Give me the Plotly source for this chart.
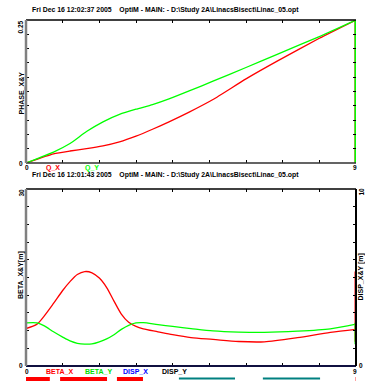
import plotly.graph_objects as go

# ---- data ----
s_q = [0, 0.75, 1.2, 1.65, 2.1, 2.55, 3.0, 3.45, 3.9, 4.45, 5.1, 6.0, 6.85, 8.0, 9.0]
q_x = [0, 0.016, 0.021, 0.025, 0.030, 0.037, 0.047, 0.059, 0.072, 0.089, 0.111, 0.147, 0.178, 0.218, 0.25]
q_y = [0, 0.019, 0.034, 0.055, 0.072, 0.085, 0.094, 0.102, 0.112, 0.126, 0.143, 0.167, 0.190, 0.221, 0.25]

s_b = [0, 0.3, 0.5, 0.75, 1.0, 1.2, 1.4, 1.6, 1.8, 2.0, 2.2, 2.4, 2.6, 2.8, 3.0, 3.2, 3.6, 4.0, 4.5, 5.1, 5.8, 6.5, 7.4, 8.3, 9.0]
beta_x = [6.35, 7.1, 8.5, 10.6, 12.8, 14.3, 15.5, 16.0, 15.8, 14.9, 13.3, 11.0, 8.8, 7.4, 6.7, 6.3, 5.8, 5.3, 4.8, 4.5, 4.15, 4.1, 4.8, 5.7, 6.2]
beta_y = [7.3, 7.3, 6.8, 5.8, 4.9, 4.25, 3.85, 3.7, 3.75, 4.1, 4.6, 5.3, 6.2, 6.9, 7.3, 7.35, 7.0, 6.7, 6.35, 5.95, 5.75, 5.7, 5.9, 6.3, 7.1]

# lattice elements (start, end, kind)
elem_start = [-0.05, 0.93, 2.48, 4.17, 6.46, 8.99]
elem_end = [0.65, 2.21, 3.19, 5.70, 8.02, 9.01]
elem_kind = ["dip", "dip", "dip", "quad", "quad", "dip"]

title1 = "Fri Dec 16 12:02:37 2005    OptiM - MAIN: - D:\\Study 2A\\LinacsBisect\\Linac_05.opt"
title2 = "Fri Dec 16 12:01:43 2005    OptiM - MAIN: - D:\\Study 2A\\LinacsBisect\\Linac_05.opt"

RED = "#ff0000"
GREEN = "#00ff00"

W, H = 365, 381
L, R, T, B = 26, 356, 20, 366


def P(x, y):
    return (x - L) / (R - L), (B - y) / (B - T)


top_lo = P(0, 163)[1]
bot_hi = P(0, 189)[1]

fig = go.Figure()
fig.add_trace(go.Scatter(x=s_q, y=q_x, mode="lines", line=dict(color=RED, width=1.3, shape="spline", smoothing=0.5),
                         xaxis="x", yaxis="y", showlegend=False))
fig.add_trace(go.Scatter(x=s_q, y=q_y, mode="lines", line=dict(color=GREEN, width=1.3, shape="spline", smoothing=0.5),
                         xaxis="x", yaxis="y", showlegend=False))
fig.add_trace(go.Scatter(x=[s_q[-1], s_q[-1]], y=[min(q_x), max(q_x)], mode="lines", line=dict(color=RED, width=3),
                         xaxis="x", yaxis="y", showlegend=False, cliponaxis=False))
fig.add_trace(go.Scatter(x=[s_q[-1], s_q[-1]], y=[min(q_y), max(q_y)], mode="lines", line=dict(color=GREEN, width=3),
                         xaxis="x", yaxis="y", showlegend=False, cliponaxis=False))

fig.add_trace(go.Scatter(x=s_b, y=beta_x, mode="lines", line=dict(color=RED, width=1.3, shape="spline", smoothing=0.8),
                         xaxis="x2", yaxis="y2", showlegend=False))
fig.add_trace(go.Scatter(x=s_b, y=beta_y, mode="lines", line=dict(color=GREEN, width=1.3, shape="spline", smoothing=0.8),
                         xaxis="x2", yaxis="y2", showlegend=False))
fig.add_trace(go.Scatter(x=[s_b[-1], s_b[-1]], y=[min(beta_x), max(beta_x)], mode="lines", line=dict(color=RED, width=3),
                         xaxis="x2", yaxis="y2", showlegend=False, cliponaxis=False))
fig.add_trace(go.Scatter(x=[s_b[-1], s_b[-1]], y=[min(beta_y), max(beta_y)], mode="lines", line=dict(color=GREEN, width=3),
                         xaxis="x2", yaxis="y2", showlegend=False, cliponaxis=False))
# dummy trace for right axis
fig.add_trace(go.Scatter(x=[0], y=[0], mode="markers", marker=dict(size=0.1, opacity=0), xaxis="x2", yaxis="y3",
                         showlegend=False, hoverinfo="skip"))

ax_common = dict(showgrid=False, zeroline=False, showline=False, showticklabels=False,
                 ticks="inside", ticklen=3, tickcolor="#000000", tickwidth=1, mirror="ticks")

fig.update_layout(
    width=W, height=H, margin=dict(l=L, r=W - R, t=T, b=H - B),
    paper_bgcolor="white", plot_bgcolor="white",
    xaxis=dict(domain=[0, 1], anchor="y", range=[0, 9], tickvals=list(range(10)), **ax_common),
    yaxis=dict(domain=[top_lo, 1], anchor="x", range=[0, 0.25], tickvals=[i * 0.025 for i in range(11)], **ax_common),
    xaxis2=dict(domain=[0, 1], anchor="y2", range=[0, 9], tickvals=list(range(10)), **ax_common),
    yaxis2=dict(domain=[0, bot_hi], anchor="x2", range=[0, 30], tickvals=[i * 3 for i in range(11)],
                **{k: v for k, v in ax_common.items() if k != "mirror"}),
    yaxis3=dict(overlaying="y2", side="right", anchor="x2", range=[0, 10], tickvals=list(range(11)),
                showgrid=False, zeroline=False, showline=False, showticklabels=False,
                ticks="inside", ticklen=3, tickcolor="#000000"),
)

shapes = []
def line(x0, y0, x1, y1, color, width):
    a0, b0 = P(x0, y0)
    a1, b1 = P(x1, y1)
    shapes.append(dict(type="line", xref="paper", yref="paper", x0=a0, y0=b0, x1=a1, y1=b1,
                       line=dict(color=color, width=width), layer="above"))

# top plot frame
line(L, 20, R, 20, "#000000", 1.5)
line(L, 163, R, 163, "#303030", 1.5)
line(L, 20, L, 163, "#808080", 2.5)
# bottom plot frame
line(L, 189, R, 189, "#000000", 1.5)
line(L, 366, R, 366, "#101040", 2)
line(L, 189, L, 366, "#808080", 2.5)
line(R, 189, R, 366, "#000000", 2)

# lattice elements
for s0, s1, k in zip(elem_start, elem_end, elem_kind):
    if k == "dip":
        shapes.append(dict(type="rect", xref="x2", yref="paper", x0=s0, x1=s1,
                           y0=P(0, 381.5)[1], y1=P(0, 377)[1], fillcolor=RED, line=dict(width=0)))
    else:
        shapes.append(dict(type="rect", xref="x2", yref="paper", x0=s0, x1=s1,
                           y0=P(0, 379.5)[1], y1=P(0, 377.5)[1], fillcolor="#008080", line=dict(width=0)))
fig.update_layout(shapes=shapes)

FONT = "Liberation Sans"
ann = []
def txt(x, y, t, color="#000000", size=6.5, angle=0, xanchor="center"):
    a, b = P(x, y)
    ann.append(dict(x=a, y=b, xref="paper", yref="paper", text="<b>" + t + "</b>", showarrow=False,
                    textangle=angle, xanchor=xanchor, yanchor="middle",
                    font=dict(family=FONT, size=size, color=color)))

txt(29.5, 10.5, title1, size=6.9, xanchor="left")
txt(29.5, 174.5, title2, size=6.9, xanchor="left")

# top plot labels
txt(20.5, 27, "0.25", size=6.5, angle=-90)
txt(20.5, 93, "PHASE_X&Y", size=7, angle=-90)
txt(20.5, 163, "0", size=6.5)
txt(26.5, 167.5, "0", size=6.5)
txt(355, 167.5, "9", size=6.5)
txt(53, 167.5, "Q_X", RED, size=7)
txt(92, 167.5, "Q_Y", GREEN, size=7)

# bottom plot labels
txt(20.5, 193, "30", size=6.5, angle=-90)
txt(21, 275, "BETA_X&Y[m]", size=7, angle=-90)
txt(20.5, 365, "0", size=6.5)
txt(360.5, 192, "10", size=6.5, angle=-90)
txt(360.5, 277, "DISP_X&Y [m]", size=7, angle=-90)
txt(360.5, 365, "0", size=6.5)
txt(26.5, 371, "0", size=6.5)
txt(355, 371, "9", size=6.5)
txt(59.5, 371, "BETA_X", RED, size=7)
txt(98.5, 371, "BETA_Y", "#00e000", size=7)
txt(135.5, 371, "DISP_X", "#0000ff", size=7)
txt(174.5, 371, "DISP_Y", "#000000", size=7)

fig.update_layout(annotations=ann)
fig.write_html("out.html", config={"displayModeBar": False},
               post_script="document.body.style.margin='0px';document.body.style.overflow='hidden';")
